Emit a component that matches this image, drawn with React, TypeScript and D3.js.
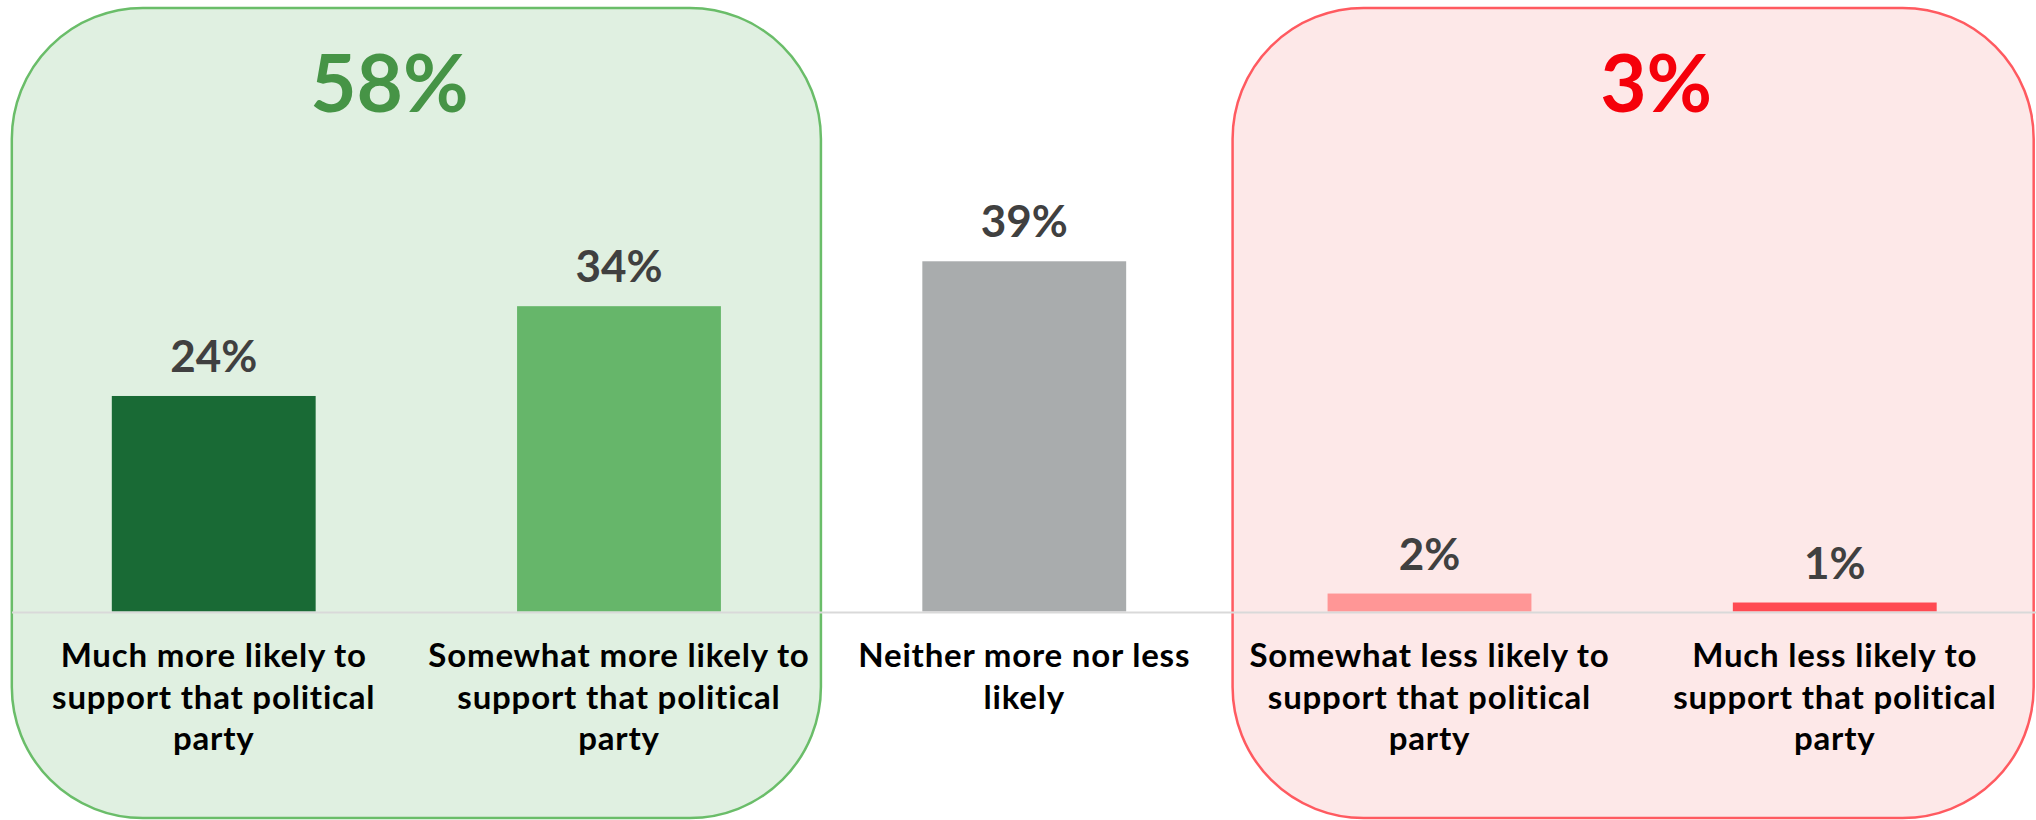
import React from 'react';
import * as d3 from 'd3';

const categories = [
  'Much more likely to support that political party',
  'Somewhat more likely to support that political party',
  'Neither more nor less likely',
  'Somewhat less likely to support that political party',
  'Much less likely to support that political party',
];
const categoryLines = [
  ['Much more likely to', 'support that political', 'party'],
  ['Somewhat more likely to', 'support that political', 'party'],
  ['Neither more nor less', 'likely'],
  ['Somewhat less likely to', 'support that political', 'party'],
  ['Much less likely to', 'support that political', 'party'],
];
const values = [24, 34, 39, 2, 1];
const valueLabels = ['24%', '34%', '39%', '2%', '1%'];
const groupTotals = ['58%', '3%'];
const groupMembers = [[0, 1], [3, 4]];

const barColors = ['#196A35', '#66B66A', '#A9ACAD', '#FF9696', '#FF4A52'];
const groupFill = ['#E0F0E1', '#FDE8E8'];
const groupStroke = ['#6ABD69', '#FF5A60'];
const groupText = ['#469446', '#F5000A'];
const groupPad = [[100, 100], [95, 97]];
const groupTextShift = [-27, 23];

const W = 2036;
const H = 820;
const baseY = 611.5;
const FONT = 'Lato, "Open Sans", sans-serif';

export default function App() {
  const idx = d3.range(values.length);
  const x = d3
    .scaleBand<number>()
    .domain(idx)
    .range([10.5, 2038])
    .paddingInner(0.497)
    .paddingOuter(0.25);
  const bw = x.bandwidth();
  const y = d3.scaleLinear().domain([0, 39]).range([baseY, baseY - 39 * 8.98]);

  return (
    <svg
      width={W}
      height={H}
      style={{ position: 'absolute', left: 0, top: 0, background: '#fff' }}
      fontFamily={FONT}
    >
      {groupMembers.map((m, g) => {
        const left = (x(m[0]) as number) - groupPad[g][0];
        const right = (x(m[m.length - 1]) as number) + bw + groupPad[g][1];
        return (
          <g key={'g' + g}>
            <rect
              x={left}
              y={8}
              width={right - left}
              height={810}
              rx={131}
              ry={131}
              fill={groupFill[g]}
              stroke={groupStroke[g]}
              strokeWidth={2.5}
            />
            <text
              x={(left + right) / 2 + groupTextShift[g]}
              y={112}
              textAnchor="middle"
              fontSize={80}
              fontWeight={700}
              fill={groupText[g]}
            >
              {groupTotals[g]}
            </text>
          </g>
        );
      })}
      {idx.map((i) => (
        <rect
          key={'b' + i}
          x={x(i)}
          y={y(values[i])}
          width={bw}
          height={baseY - y(values[i])}
          fill={barColors[i]}
        />
      ))}
      <line x1={12} x2={W} y1={baseY + 1} y2={baseY + 1} stroke="#D9D9D9" strokeWidth={2} />
      {idx.map((i) => (
        <text
          key={'v' + i}
          x={(x(i) as number) + bw / 2}
          y={y(values[i]) - 24}
          textAnchor="middle"
          fontSize={44}
          fontWeight={700}
          fill="#404040"
        >
          {valueLabels[i]}
        </text>
      ))}
      {idx.map((i) => (
        <text
          key={'c' + i}
          textAnchor="middle"
          fontSize={33}
          fontWeight={700}
          letterSpacing={0.8}
          fill="#000"
        >
          {categoryLines[i].map((line, j) => (
            <tspan key={j} x={(x(i) as number) + bw / 2} y={667 + j * 41.5}>
              {line}
            </tspan>
          ))}
          <title>{categories[i]}</title>
        </text>
      ))}
    </svg>
  );
}
